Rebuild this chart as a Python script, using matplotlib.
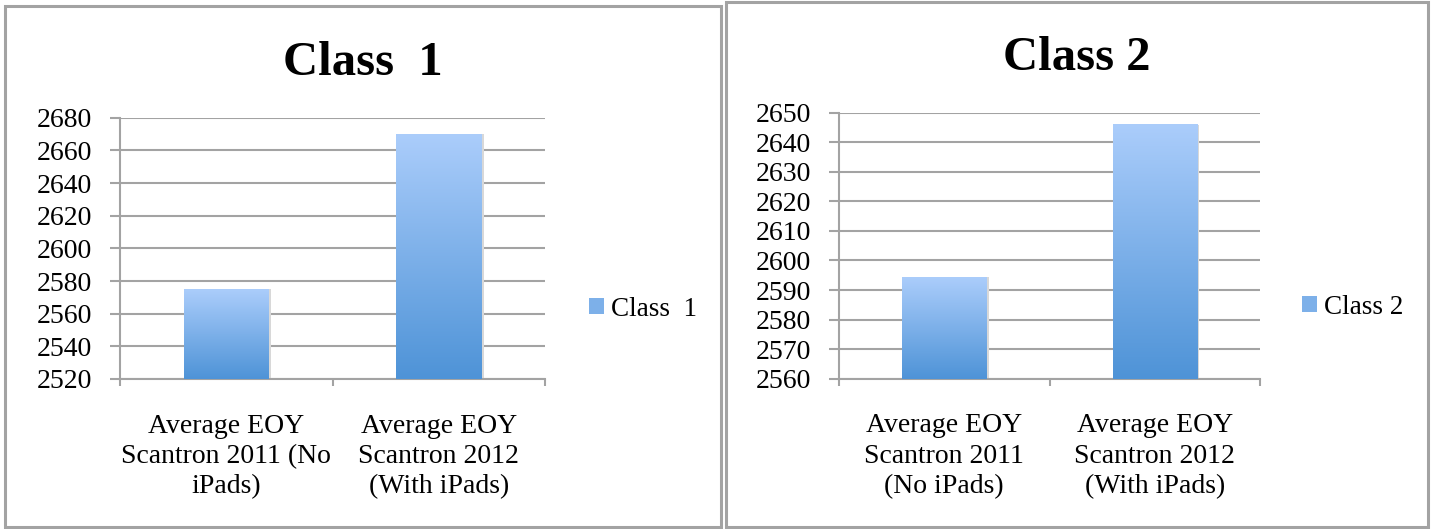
import matplotlib
matplotlib.use("Agg")
import matplotlib.pyplot as plt
import numpy as np
from matplotlib.patches import Rectangle, Patch

# --- data ---
class1_labels = ["Average EOY\nScantron 2011 (No\niPads)",
                 "Average EOY\nScantron 2012\n(With iPads)"]
class1_values = [2575, 2670]
class1_ticks = [2520, 2540, 2560, 2580, 2600, 2620, 2640, 2660, 2680]

class2_labels = ["Average EOY\nScantron 2011\n(No iPads)",
                 "Average EOY\nScantron 2012\n(With iPads)"]
class2_values = [2594.5, 2646]
class2_ticks = [2560, 2570, 2580, 2590, 2600, 2610, 2620, 2630, 2640, 2650]

plt.rcParams["font.family"] = ["Liberation Serif", "DejaVu Serif"]

GRAY = "#a3a3a3"
TOP = np.array([171, 205, 251]) / 255
BOT = np.array([78, 147, 215]) / 255

W, H = 1432, 529
fig = plt.figure(figsize=(W / 100, H / 100), dpi=100)


def fx(px):
    return px / W


def fy(py):
    return 1 - py / H


# panel borders
for x0, y0, x1, y1 in [(5, 6, 721, 527), (726, 2, 1428, 527)]:
    fig.patches.append(Rectangle((fx(x0), fy(y1)), fx(x1 - x0), (y1 - y0) / H,
                                 transform=fig.transFigure, fill=False,
                                 edgecolor=GRAY, linewidth=2.2))

grad = np.linspace(0, 1, 256)[:, None, None]
grad_img = TOP * (1 - grad) + BOT * grad  # top row light, bottom dark


def panel(rect, labels, values, ticks, title, title_xy, legend_xy, legend_name):
    ax = fig.add_axes(rect)
    bars = ax.bar([0, 1], values, width=0.4, color="none", zorder=3)
    for b in bars:
        x0, w = b.get_x(), b.get_width()
        # soft shadow on the right side, then the gradient fill
        ax.bar(x0 + w / 2 + 0.012, b.get_height() - ticks[0], bottom=ticks[0],
               width=w, color="#d8d8d8", zorder=2)
        ax.imshow(grad_img, extent=[x0, x0 + w, ticks[0], b.get_height()],
                  aspect="auto", zorder=3, interpolation="bilinear")
    ax.set_xlim(-0.5, 1.5)
    ax.set_ylim(ticks[0], ticks[-1])
    ax.set_yticks(ticks)
    ax.set_xticks([0, 1])
    ax.set_xticklabels(labels)
    ax.set_xticks([-0.5, 0.5, 1.5], minor=True)
    for lbl in ax.get_xticklabels():
        lbl.set_linespacing(1.27)
    ax.tick_params(axis="x", which="major", length=0, pad=25, labelsize=20)
    ax.tick_params(axis="x", which="minor", length=5, width=1.5, color=GRAY)
    ax.tick_params(axis="y", length=7, width=1.5, color=GRAY, pad=13,
                   labelsize=20)
    ax.grid(axis="y", color=GRAY, linewidth=1.5, zorder=0)
    ax.set_axisbelow(True)
    for s in ["top", "right"]:
        ax.spines[s].set_visible(False)
    for s in ["left", "bottom"]:
        ax.spines[s].set_color(GRAY)
        ax.spines[s].set_linewidth(1.5)
    fig.text(fx(title_xy[0]), fy(title_xy[1]), title, ha="center",
             va="baseline", fontsize=35, fontweight="bold")
    fig.legend(handles=[Patch(facecolor=(TOP + BOT) / 2, edgecolor="none",
                              label=legend_name)],
               loc="center left", bbox_to_anchor=(fx(legend_xy[0]), fy(legend_xy[1])),
               frameon=False, fontsize=19.5, handlelength=0.55, handleheight=0.55,
               handletextpad=0.25, borderpad=0, borderaxespad=0)
    return ax


panel([fx(120), fy(379), fx(545 - 120), (379 - 117.7) / H],
      class1_labels, class1_values, class1_ticks, "Class  1",
      (363, 75), (589, 309), "Class  1")
panel([fx(839), fy(378.7), fx(1260 - 839), (378.7 - 112.7) / H],
      class2_labels, class2_values, class2_ticks, "Class 2",
      (1077, 70), (1302, 307), "Class 2")

plt.savefig("out.png", dpi=100)
